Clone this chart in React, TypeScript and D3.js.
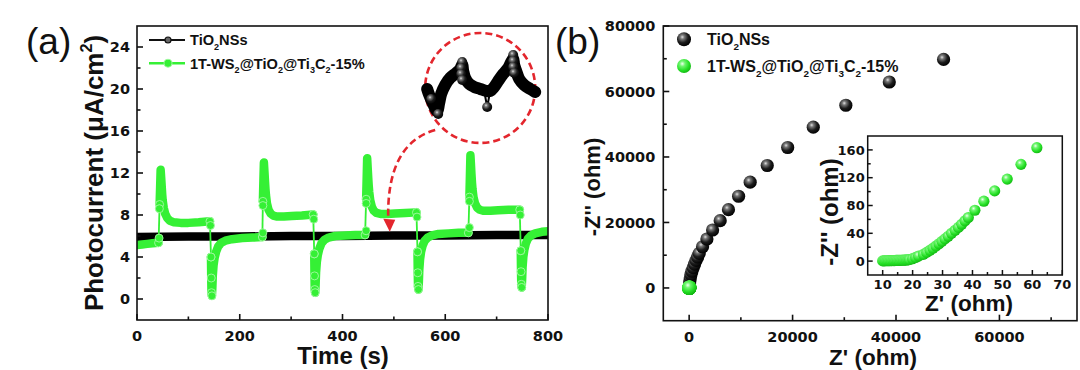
import React from "react";
import * as d3 from "d3";

type Pt = [number, number];

// ---------------- panel (a): photocurrent vs time ----------------
const timeTicksMajor = [0, 200, 400, 600, 800];
const timeTicksMinor = [100, 300, 500, 700];
const curTicksMajor = [0, 4, 8, 12, 16, 20, 24];
const curTicksMinor = [2, 6, 10, 14, 18, 22];

const tio2Current: Pt[] = [
  [0, 5.9], [100, 5.95], [200, 5.95], [300, 6.0], [400, 6.0],
  [500, 6.05], [600, 6.05], [700, 6.1], [800, 6.1],
];

// light-off (dark) stretches of 1T-WS2@TiO2@Ti3C2-15%
const compDark: Pt[][] = [
  [[0, 5.15], [10, 5.2], [20, 5.25], [30, 5.3], [42, 5.35]],
  [[144, 4.0], [144.5, 2.0], [145, 0.6], [145.8, 0.3], [146.6, 1.0], [147.5, 2.2], [149, 3.2], [151, 3.9], [154, 4.5], [158, 5.0], [164, 5.35], [172, 5.55], [185, 5.7], [205, 5.8], [225, 5.85], [244, 5.9]],
  [[345, 4.3], [345.5, 2.2], [346, 0.9], [346.8, 0.6], [347.6, 1.3], [348.5, 2.5], [350, 3.5], [352, 4.2], [355, 4.8], [359, 5.3], [365, 5.65], [373, 5.85], [386, 6.0], [405, 6.05], [425, 6.1], [444, 6.1]],
  [[546, 4.5], [546.5, 2.5], [547, 1.2], [547.8, 0.9], [548.6, 1.6], [549.5, 2.8], [551, 3.8], [553, 4.5], [556, 5.1], [560, 5.55], [566, 5.85], [574, 6.05], [587, 6.2], [606, 6.25], [626, 6.3], [645, 6.3]],
  [[747, 4.6], [747.5, 2.6], [748, 1.4], [748.8, 1.1], [749.6, 1.8], [750.5, 3.0], [752, 4.0], [754, 4.7], [757, 5.3], [761, 5.75], [767, 6.05], [775, 6.25], [788, 6.4], [800, 6.45]],
];

// light-on stretches
const compLight: Pt[][] = [
  [[44, 9.0], [45, 10.6], [46, 12.3], [47, 11.6], [48, 10.8], [49, 10.0], [50, 9.4], [52, 8.7], [55, 8.1], [59, 7.7], [64, 7.45], [72, 7.3], [85, 7.25], [100, 7.25], [120, 7.3], [142, 7.4]],
  [[245, 9.3], [246, 11.2], [247, 13.0], [248, 12.2], [249, 11.3], [250, 10.5], [251, 9.9], [253, 9.1], [256, 8.5], [260, 8.15], [265, 7.95], [273, 7.85], [286, 7.85], [301, 7.9], [321, 7.95], [343, 8.05]],
  [[446, 9.5], [447, 11.4], [448, 13.4], [449, 12.5], [450, 11.6], [451, 10.8], [452, 10.2], [454, 9.4], [457, 8.8], [461, 8.4], [466, 8.2], [474, 8.1], [487, 8.1], [502, 8.15], [522, 8.2], [544, 8.25]],
  [[647, 9.7], [648, 11.7], [649, 13.7], [650, 12.8], [651, 11.9], [652, 11.1], [653, 10.5], [655, 9.7], [658, 9.1], [662, 8.7], [667, 8.5], [675, 8.4], [688, 8.4], [703, 8.45], [723, 8.5], [745, 8.5]],
];
const compOnJumpBeads: Pt[] = [[43, 5.8], [43.5, 8.6], [245, 6.3], [245, 8.9], [446, 6.5], [446, 9.1], [647, 6.8], [647, 9.3]];
const compOffJumpBeads: Pt[] = [[143, 7.0], [344, 7.6], [545, 7.8], [746, 8.0]];

// magnified TiO2 trace drawn inside the dashed circle (inset units)
const zoomBand: Pt[] = [
  [1, 36], [3, 30], [7, 21], [11, 14], [13, 22], [15, 31], [19, 40], [24, 47], [30, 52], [34, 56], [36, 60],
  [37, 54], [39, 47], [43, 41], [48, 38], [54, 36], [60, 34], [64, 34], [68, 38], [72, 44], [77, 51],
  [82, 57], [85, 63], [87, 66], [88, 60], [90, 54], [93, 46], [98, 40], [104, 36], [109, 33],
];
const zoomBeads: Pt[] = [[5, 26], [12, 11], [36, 63], [35, 57], [35, 51], [36, 45], [87, 70], [87, 64], [87, 58], [88, 52]];
const zoomDip: Pt[] = [[58, 34], [61, 18], [64, 34]];
const zoomCenter: Pt = [668, 20.1];
const arrowTip: Pt = [492, 6.4];

// ---------------- panel (b): Nyquist ----------------
const zReMajor = [0, 20000, 40000, 60000];
const zReMinor = [10000, 30000, 50000, 70000];
const zImMajor = [0, 20000, 40000, 60000, 80000];
const zImMinor = [10000, 30000, 50000, 70000];
const insReMajor = [10, 20, 30, 40, 50, 60, 70];
const insReMinor = [15, 25, 35, 45, 55, 65];
const insImMajor = [0, 40, 80, 120, 160];
const insImMinor = [20, 60, 100, 140];

const tio2Nyquist: Pt[] = [
  [40, 500], [80, 1300], [140, 2200], [230, 3100], [360, 4100], [540, 5100], [780, 6200], [1050, 7300],
  [1330, 8400], [1640, 9450], [1940, 10550], [2590, 12580], [3430, 14940], [4530, 17700], [6000, 20550],
  [7600, 23900], [9560, 28000], [11800, 32300], [15100, 37400], [19050, 42900], [24000, 49100],
  [30300, 55800], [38700, 62900], [49200, 69800],
];
const compNyquist: Pt[] = [
  [10, 0.3], [10.5, 0.4], [11, 0.5], [11.5, 0.5], [12, 0.6], [12.5, 0.6], [13, 0.7], [13.5, 0.8], [14, 0.8],
  [14.5, 0.9], [15, 1.0], [15.5, 1.0], [16, 1.1], [16.5, 1.2], [17, 1.3], [17.5, 1.5], [18, 1.7], [18.5, 1.9],
  [19, 2.3], [20, 3.5], [21, 5.3], [22, 7.3], [23.6, 9.7], [24.7, 12.5], [25.8, 15.5], [26.8, 18.5],
  [27.8, 21.7], [28.8, 25], [29.8, 28.4], [30.8, 32], [31.9, 35.7], [33, 40], [34.2, 44.3], [35.3, 48.5],
  [36.4, 53], [37.5, 58], [38.6, 62.7], [40.8, 73.2], [43.8, 86.2], [47.4, 101], [51.6, 118], [56.2, 139.2],
  [61.5, 163.2],
];

// ---------------- layout ----------------
const A = { l: 137, r: 548, t: 26, b: 320 };
const B = { l: 663.3, r: 1077, t: 26, b: 320.7 };
const BI = { l: 867.7, r: 1062.3, t: 136, b: 275 };

const FONT = "'Liberation Sans', Arial, Helvetica, sans-serif";
const NUM = "'DejaVu Sans', sans-serif";
const GREEN = "#35f035";
const RED = "#e3262d";

type Part = [string, number]; // 0 normal, 1 sub, 2 sup

function Rich(props: { parts: Part[]; fs: number; [k: string]: any }) {
  const { parts, fs, ...rest } = props;
  let shift = 0;
  return (
    <text fontSize={fs} fontFamily={FONT} fontWeight="bold" {...rest}>
      {parts.map(([s, k], i) => {
        const target = k === 1 ? 0.3 * fs : k === 2 ? -0.42 * fs : 0;
        const dy = target - shift;
        shift = target;
        return (
          <tspan key={i} dy={dy} fontSize={k ? fs * 0.62 : fs}>
            {s}
          </tspan>
        );
      })}
    </text>
  );
}

const compLabel: Part[] = [["1T-WS", 0], ["2", 1], ["@TiO", 0], ["2", 1], ["@Ti", 0], ["3", 1], ["C", 0], ["2", 1], ["-15%", 0]];
const tio2Label: Part[] = [["TiO", 0], ["2", 1], ["NSs", 0]];

function Axes(props: {
  box: { l: number; r: number; t: number; b: number };
  x: d3.ScaleLinear<number, number>;
  y: d3.ScaleLinear<number, number>;
  xMaj: number[]; xMin: number[]; yMaj: number[]; yMin: number[];
  fs: number; xLabelDy: number; yLabelGap: number; major: number; minor: number; sw: number;
}) {
  const { box, x, y, xMaj, xMin, yMaj, yMin, fs, xLabelDy, yLabelGap, major, minor, sw } = props;
  return (
    <g>
      <rect x={box.l} y={box.t} width={box.r - box.l} height={box.b - box.t} fill="none" stroke="#111" strokeWidth={sw} />
      {xMaj.map((v) => (
        <line key={"xM" + v} x1={x(v)} x2={x(v)} y1={box.b} y2={box.b - major} stroke="#111" strokeWidth={sw} />
      ))}
      {xMin.map((v) => (
        <line key={"xm" + v} x1={x(v)} x2={x(v)} y1={box.b} y2={box.b - minor} stroke="#111" strokeWidth={sw} />
      ))}
      {yMaj.map((v) => (
        <line key={"yM" + v} x1={box.l} x2={box.l + major} y1={y(v)} y2={y(v)} stroke="#111" strokeWidth={sw} />
      ))}
      {yMin.map((v) => (
        <line key={"ym" + v} x1={box.l} x2={box.l + minor} y1={y(v)} y2={y(v)} stroke="#111" strokeWidth={sw} />
      ))}
      {xMaj.map((v) => (
        <text key={"xl" + v} x={x(v)} y={box.b + xLabelDy} textAnchor="middle" fontFamily={NUM} fontWeight="bold" fontSize={fs} fill="#111">
          {v}
        </text>
      ))}
      {yMaj.map((v) => (
        <text key={"yl" + v} x={box.l - yLabelGap} y={y(v)} dy="0.36em" textAnchor="end" fontFamily={NUM} fontWeight="bold" fontSize={fs} fill="#111">
          {v}
        </text>
      ))}
    </g>
  );
}

export default function App() {
  const xa = d3.scaleLinear().domain([0, 800]).range([A.l, A.r]);
  const ya = d3.scaleLinear().domain([-2, 26]).range([A.b, A.t]);
  const xb = d3.scaleLinear().domain([-5000, 75000]).range([B.l, B.r]);
  const yb = d3.scaleLinear().domain([-10000, 80000]).range([B.b, B.t]);
  const xi = d3.scaleLinear().domain([5, 70]).range([BI.l, BI.r]);
  const yi = d3.scaleLinear().domain([-20, 180]).range([BI.b, BI.t]);

  const lineA = d3.line<Pt>().x((d) => xa(d[0])).y((d) => ya(d[1]));

  // connectors between dark and light stretches
  const connectors: Pt[][] = [];
  for (let i = 0; i < compLight.length; i++) {
    const d = compDark[i];
    connectors.push([d[d.length - 1], compLight[i][0]]);
    const l = compLight[i];
    if (compDark[i + 1]) connectors.push([l[l.length - 1], compDark[i + 1][0]]);
  }
  const beadPts: Pt[] = [];
  connectors.forEach((c) => c.forEach((p) => beadPts.push(p)));
  compOnJumpBeads.forEach((p) => beadPts.push(p));
  compOffJumpBeads.forEach((p) => beadPts.push(p));
  compDark.slice(1).forEach((s) => s.slice(0, 4).forEach((p) => beadPts.push(p)));

  // zoom inset (inside dashed circle)
  const cx = xa(zoomCenter[0]);
  const cy = ya(zoomCenter[1]);
  const R = 55;
  const zx = d3.scaleLinear().domain([0, 110]).range([cx - 54, cx + 56]);
  const zy = d3.scaleLinear().domain([0, 70]).range([cy + 37, cy - 33]);
  const zLine = d3.line<Pt>().x((d) => zx(d[0])).y((d) => zy(d[1])).curve(d3.curveCatmullRom);
  const zDipLine = d3.line<Pt>().x((d) => zx(d[0])).y((d) => zy(d[1]));

  const tipX = xa(arrowTip[0]);
  const tipY = ya(arrowTip[1]);
  const arrowPath = `M${cx - 45},${cy + 42} Q${cx - 94},${cy + 56} ${tipX - 1.5},${tipY - 12}`;

  return (
    <svg width={1080} height={370} style={{ position: "absolute", left: 0, top: 0, background: "#fff" }}>
      <defs>
        <radialGradient id="gBlack" cx="0.38" cy="0.34" r="0.68">
          <stop offset="0" stopColor="#e0e0e0" />
          <stop offset="0.22" stopColor="#777" />
          <stop offset="0.6" stopColor="#1c1c1c" />
          <stop offset="1" stopColor="#000" />
        </radialGradient>
        <radialGradient id="gGreen" cx="0.38" cy="0.34" r="0.68">
          <stop offset="0" stopColor="#efffef" />
          <stop offset="0.28" stopColor="#6ff56f" />
          <stop offset="0.7" stopColor="#25e025" />
          <stop offset="1" stopColor="#14b814" />
        </radialGradient>
        <clipPath id="clipA">
          <rect x={A.l} y={A.t} width={A.r - A.l} height={A.b - A.t} />
        </clipPath>
      </defs>
      <rect x={0} y={0} width={1080} height={370} fill="#fff" />

      {/* ---------- panel (a) ---------- */}
      <text x={26} y={54} fontFamily={FONT} fontSize={37} fill="#111">(a)</text>
      <g clipPath="url(#clipA)">
        <path d={lineA(tio2Current) || ""} fill="none" stroke="#000" strokeWidth={8.5} />
        {connectors.map((c, i) => (
          <path key={"c" + i} d={lineA(c) || ""} fill="none" stroke={GREEN} strokeWidth={1.8} />
        ))}
        {compDark.map((s, i) => (
          <path key={"d" + i} d={lineA(s) || ""} fill="none" stroke={GREEN} strokeWidth={8.5} strokeLinejoin="round" strokeLinecap="round" />
        ))}
        {compLight.map((s, i) => (
          <path key={"l" + i} d={lineA(s) || ""} fill="none" stroke={GREEN} strokeWidth={8.5} strokeLinejoin="round" strokeLinecap="round" />
        ))}
        {beadPts.map((p, i) => (
          <circle key={"b" + i} cx={xa(p[0])} cy={ya(p[1])} r={4} fill={GREEN} stroke="#a4f8a4" strokeWidth={0.9} />
        ))}
      </g>
      <Axes box={A} x={xa} y={ya} xMaj={timeTicksMajor} xMin={timeTicksMinor} yMaj={curTicksMajor} yMin={curTicksMinor}
        fs={14.5} xLabelDy={21} yLabelGap={7} major={6} minor={3.5} sw={1.6} />
      {/* legend (a) */}
      <line x1={149} x2={185} y1={40} y2={40} stroke="#111" strokeWidth={2} />
      <circle cx={168} cy={40} r={3} fill="#666" stroke="#111" strokeWidth={1.2} />
      <Rich parts={tio2Label} fs={14.6} x={190} y={45.2} fill="#111" />
      <line x1={149} x2={185} y1={63.3} y2={63.3} stroke={GREEN} strokeWidth={2.5} />
      <circle cx={168} cy={63.3} r={4} fill={GREEN} stroke="#a4f8a4" strokeWidth={0.9} />
      <Rich parts={compLabel} fs={14.6} x={190} y={68.5} fill="#111" />
      {/* zoom circle */}
      <circle cx={cx} cy={cy} r={R} fill="none" stroke={RED} strokeWidth={2.6} strokeDasharray="7 4" />
      <path d={zLine(zoomBand) || ""} fill="none" stroke="#000" strokeWidth={12} strokeLinejoin="round" strokeLinecap="round" />
      <path d={zDipLine(zoomDip) || ""} fill="none" stroke="#000" strokeWidth={2} />
      {zoomBeads.concat([zoomDip[1]]).map((p, i) => (
        <circle key={"z" + i} cx={zx(p[0])} cy={zy(p[1])} r={5} fill="url(#gBlack)" />
      ))}
      <path d={arrowPath} fill="none" stroke={RED} strokeWidth={2.6} strokeDasharray="7 4" />
      <polygon points={`${tipX},${tipY} ${tipX - 6.5},${tipY - 13} ${tipX + 5.5},${tipY - 12}`} fill={RED} />
      {/* axis titles (a) */}
      <text x={343} y={364} textAnchor="middle" fontFamily={FONT} fontWeight="bold" fontSize={24} fill="#111">Time (s)</text>
      <g transform={`translate(103,${(A.t + A.b) / 2}) rotate(-90)`}>
        <Rich parts={[["Photocurrent (μA/cm", 0], ["2", 2], [")", 0]]} fs={26} x={0} y={0} textAnchor="middle" fill="#111" />
      </g>

      {/* ---------- panel (b) ---------- */}
      <text x={555} y={54} fontFamily={FONT} fontSize={37} fill="#111">(b)</text>
      <Axes box={B} x={xb} y={yb} xMaj={zReMajor} xMin={zReMinor} yMaj={zImMajor} yMin={zImMinor}
        fs={14.5} xLabelDy={21} yLabelGap={8} major={6} minor={3.5} sw={1.6} />
      {tio2Nyquist.map((p, i) => (
        <circle key={"tn" + i} cx={xb(p[0])} cy={yb(p[1])} r={6.6} fill="url(#gBlack)" />
      ))}
      {compNyquist.map((p, i) => (
        <circle key={"cn" + i} cx={xb(p[0])} cy={yb(p[1])} r={7} fill="url(#gGreen)" />
      ))}
      {/* legend (b) */}
      <circle cx={684} cy={39.3} r={7} fill="url(#gBlack)" />
      <Rich parts={tio2Label} fs={16} x={707} y={45} fill="#111" />
      <circle cx={684} cy={66} r={7} fill="url(#gGreen)" />
      <Rich parts={compLabel} fs={16} x={707} y={71.7} fill="#111" />
      {/* inset (b) */}
      <rect x={BI.l} y={BI.t} width={BI.r - BI.l} height={BI.b - BI.t} fill="#fff" />
      {compNyquist.map((p, i) => (
        <circle key={"ci" + i} cx={xi(p[0])} cy={yi(p[1])} r={5.6} fill="url(#gGreen)" />
      ))}
      <Axes box={BI} x={xi} y={yi} xMaj={insReMajor} xMin={insReMinor} yMaj={insImMajor} yMin={insImMinor}
        fs={13} xLabelDy={14} yLabelGap={3} major={5} minor={3} sw={1.5} />
      <text x={969} y={311} textAnchor="middle" fontFamily={FONT} fontWeight="bold" fontSize={22.5} fill="#111">Z' (ohm)</text>
      <text transform={`translate(838,212) rotate(-90)`} textAnchor="middle" fontFamily={FONT} fontWeight="bold" fontSize={24} fill="#111">-Z'' (ohm)</text>
      {/* axis titles (b) */}
      <text x={873} y={365} textAnchor="middle" fontFamily={FONT} fontWeight="bold" fontSize={22.5} fill="#111">Z' (ohm)</text>
      <text transform={`translate(600,187) rotate(-90)`} textAnchor="middle" fontFamily={FONT} fontWeight="bold" fontSize={22} fill="#111">-Z'' (ohm)</text>
    </svg>
  );
}
